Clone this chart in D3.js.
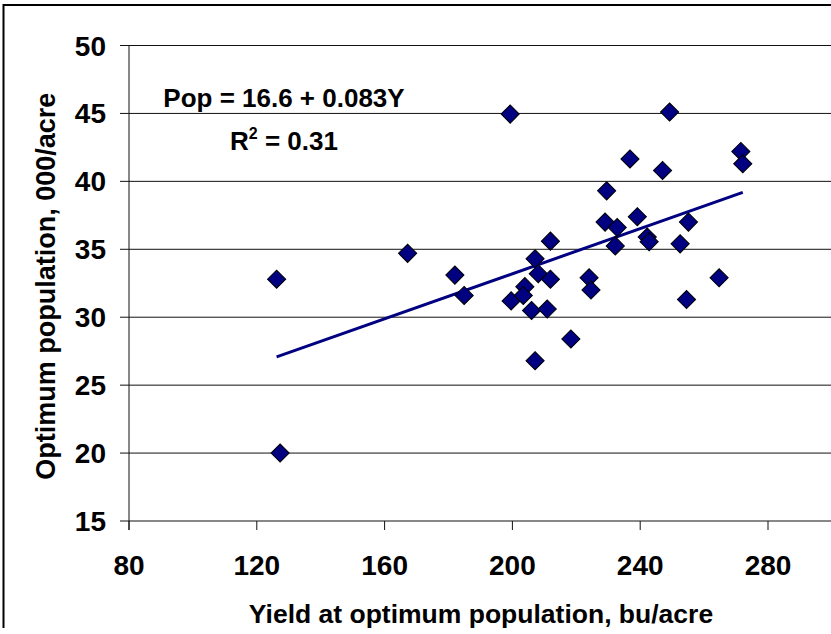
<!DOCTYPE html>
<html>
<head>
<meta charset="utf-8">
<script src="https://cdn.jsdelivr.net/npm/d3@7"></script>
<style>
  body { margin: 0; background: #fff; }
  svg text { font-family: Arial, "Liberation Sans", sans-serif; font-weight: bold; fill: #000; }
</style>
</head>
<body>
<div id="chart"></div>
<script>
// yield at optimum population (bu/acre)
var yieldVals = [126.2, 127.3, 167.2, 182.0, 184.9, 199.6, 203.9, 203.4, 206.0, 207.1,
                 208.1, 211.9, 210.9, 211.9, 218.3, 207.1, 224.0, 224.6, 232.2, 242.2,
                 242.8, 249.2, 271.5, 272.1, 236.8, 247.0, 229.5, 239.1, 229.0, 232.8,
                 255.1, 252.5, 264.7, 254.5, 199.3];
// optimum population (000/acre)
var popVals = [32.8, 20.0, 34.7, 33.1, 31.6, 31.2, 32.25, 31.6, 30.5, 34.3,
               33.2, 32.8, 30.6, 35.6, 28.4, 26.8, 32.9, 32.0, 35.25, 35.9,
               35.55, 45.1, 42.2, 41.3, 41.65, 40.8, 39.3, 37.4, 37.0, 36.6,
               37.0, 35.4, 32.9, 31.3, 44.95];
var xTicks = [80, 120, 160, 200, 240, 280];
var yTicks = [15, 20, 25, 30, 35, 40, 45, 50];
var fitIntercept = 16.6, fitSlope = 0.083, fitR2 = "0.31";

var width = 831, height = 634;

var svg = d3.select("#chart").append("svg")
    .attr("width", width)
    .attr("height", height);

// frame (only top and left edges are visible in the crop)
svg.append("line").attr("x1", 3.5).attr("y1", 5).attr("x2", width).attr("y2", 5)
    .attr("stroke", "#000").attr("stroke-width", 2);
svg.append("line").attr("x1", 3.5).attr("y1", 4).attr("x2", 3.5).attr("y2", 628)
    .attr("stroke", "#000").attr("stroke-width", 2);

// x axis runs past the right edge of the crop
var xScale = d3.scaleLinear().domain([80, 320]).range([129, 129 + 240 * 3.195]);
var yScale = d3.scaleLinear().domain([15, 50]).range([521, 45.5]);

//horizontal gridlines
svg.append("g").selectAll("line")
    .data(yTicks)
    .enter().append("line")
    .attr("x1", xScale(80) - 9)
    .attr("x2", width)
    .attr("y1", function(d){ return yScale(d); })
    .attr("y2", function(d){ return yScale(d); })
    .attr("stroke", "#111")
    .attr("stroke-width", 1);

// y axis line
svg.append("line")
    .attr("x1", xScale(80)).attr("x2", xScale(80))
    .attr("y1", yScale(50)).attr("y2", yScale(15) + 9)
    .attr("stroke", "#111");

// x ticks
svg.append("g").selectAll("line")
    .data(xTicks)
    .enter().append("line")
    .attr("x1", function(d){ return xScale(d); })
    .attr("x2", function(d){ return xScale(d); })
    .attr("y1", yScale(15))
    .attr("y2", yScale(15) + 9)
    .attr("stroke", "#111");

// tick labels
svg.append("g").selectAll("text")
    .data(yTicks)
    .enter().append("text")
    .attr("x", 106)
    .attr("y", function(d){ return yScale(d) + 10; })
    .attr("text-anchor", "end")
    .style("font-size", "28px")
    .text(function(d){ return d; });

svg.append("g").selectAll("text")
    .data(xTicks)
    .enter().append("text")
    .attr("x", function(d){ return xScale(d); })
    .attr("y", 575)
    .attr("text-anchor", "middle")
    .style("font-size", "28px")
    .text(function(d){ return d; });

// axis titles
svg.append("text")
    .attr("x", 481)
    .attr("y", 623)
    .attr("text-anchor", "middle")
    .style("font-size", "26.5px")
    .text("Yield at optimum population, bu/acre");

svg.append("text")
    .attr("transform", "translate(55," + (yScale(32.5) + 3) + ") rotate(-90)")
    .attr("text-anchor", "middle")
    .style("font-size", "27px")
    .text("Optimum population, 000/acre");

// trend line
var xMin = d3.min(yieldVals), xMax = d3.max(yieldVals);
svg.append("line")
    .attr("x1", xScale(xMin)).attr("y1", yScale(fitIntercept + fitSlope * xMin))
    .attr("x2", xScale(xMax)).attr("y2", yScale(fitIntercept + fitSlope * xMax))
    .attr("stroke", "#000080")
    .attr("stroke-width", 3);

// points
var diamond = d3.symbol().type(d3.symbolSquare).size(165);
svg.append("g").selectAll("path")
    .data(d3.range(yieldVals.length))
    .enter().append("path")
    .attr("d", diamond)
    .attr("transform", function(i){
        return "translate(" + xScale(yieldVals[i]) + "," + yScale(popVals[i]) + ") rotate(45)";
    })
    .attr("fill", "#000080")
    .attr("stroke", "#000")
    .attr("stroke-width", 1);

// equation
svg.append("text")
    .attr("x", 284)
    .attr("y", 106.5)
    .attr("text-anchor", "middle")
    .style("font-size", "26px")
    .text("Pop = " + fitIntercept + " + " + fitSlope + "Y");

var r2 = svg.append("text")
    .attr("x", 284)
    .attr("y", 150)
    .attr("text-anchor", "middle")
    .style("font-size", "26px");
r2.append("tspan").text("R");
r2.append("tspan").attr("dy", -11).style("font-size", "16px").text("2");
r2.append("tspan").attr("dy", 11).text(" = " + fitR2);
</script>
</body>
</html>
